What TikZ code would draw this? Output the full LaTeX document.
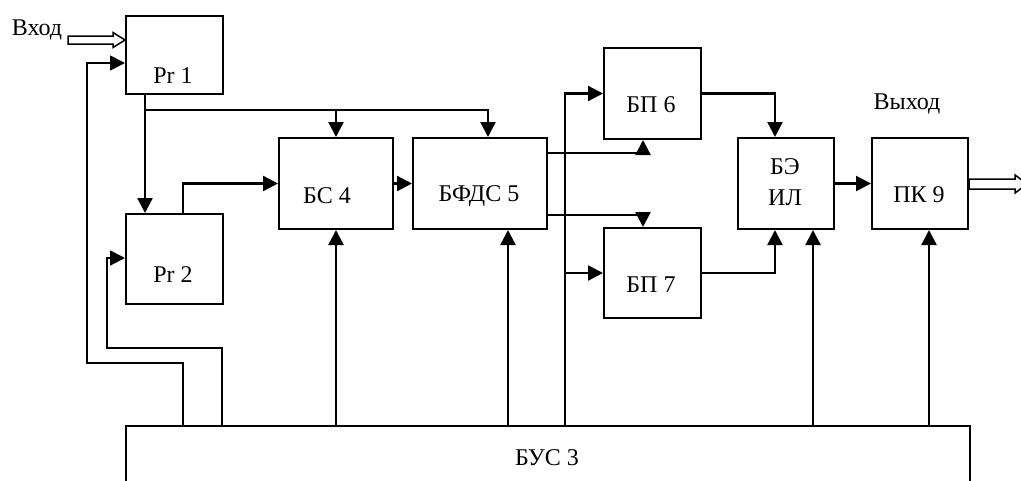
\documentclass[tikz,border=0pt]{standalone}
\usepackage{fontspec}
\setmainfont{Liberation Serif}
\usetikzlibrary{arrows.meta,calc}
\begin{document}
\begin{tikzpicture}[x=1pt,y=-1pt,
  every node/.style={font=\fontsize{24}{27}\selectfont},
  blk/.style={draw,line width=2pt,rectangle,inner sep=0pt,anchor=north west},
  lbl/.style={inner sep=0pt},
  arr/.style={line width=2.3pt,-{Triangle[length=15pt,width=15pt]}},
  fb/.style={line width=1.7pt,-{Triangle[length=15pt,width=15pt]}},
  hollow/.style={line width=1.5pt,fill=white,line join=miter}]
\useasboundingbox (0,0) rectangle (1021,480);
% blocks
\node[blk,minimum width=97pt,minimum height=78pt] (pr1) at (125,15) {};
\node[blk,minimum width=97pt,minimum height=90pt] (pr2) at (125,213) {};
\node[blk,minimum width=114pt,minimum height=91pt] (bs4) at (278,137) {};
\node[blk,minimum width=134pt,minimum height=91pt] (bfds5) at (412,137) {};
\node[blk,minimum width=97pt,minimum height=91pt] (bp6) at (603,47) {};
\node[blk,minimum width=97pt,minimum height=90pt] (bp7) at (603,227) {};
\node[blk,minimum width=96pt,minimum height=91pt] (bei) at (737,137) {};
\node[blk,minimum width=96pt,minimum height=91pt] (pk9) at (871,137) {};
\node[blk,line width=1.6pt,minimum width=844pt,minimum height=100pt] (bus) at (125,425) {};
% texts
\node[lbl] (tpr1) at (173,76) {Pr 1};
\node[lbl] (tpr2) at (173,275) {Pr 2};
\node[lbl] (tbs4) at (327,196) {БС 4};
\node[lbl] (tbfds5) at (479,196) {БФДС 5};
\node[lbl] (tbp6) at (651,105) {БП 6};
\node[lbl] (tbp7) at (651,285) {БП 7};
\node[lbl] (tbe) at (785,167) {БЭ};
\node[lbl] (til) at (785,198) {ИЛ};
\node[lbl] (tpk9) at (919,195) {ПК 9};
\node[lbl] (tbus) at (547,458) {БУС 3};
\node[lbl] (tin) at (37,30) {Вход};
\node[lbl] (tout) at (907,104) {Выход};
% connectors
\coordinate (j1) at ($(pr1.south west)+(20,15)$);
\draw[arr] ($(pr1.south west)+(20,0)$) -- ($(pr2.north west)+(20,0)$);
\draw[arr] (j1) -| ($(bs4.north west)+(58,0)$);
\draw[arr] (j1) -| ($(bfds5.north west)+(76,0)$);
\draw[arr] ($(pr2.north west)+(58,0)$) |- (bs4.west);
\draw[arr] (bs4.east) -- (bfds5.west);
\draw[arr] ($(bfds5.north east)+(0,16)$) -| ($(bp6.south west)+(40,0)$);
\draw[arr] ($(bfds5.south east)+(0,-15)$) -| ($(bp7.north west)+(40,0)$);
\draw[arr] ($(bus.north west)+(440,0)$) |- (bp6.west);
\draw[arr] ($(bus.north west)+(440,0)$) |- (bp7.west);
\draw[arr] (bp6.east) -| ($(bei.north west)+(38,0)$);
\draw[arr] (bp7.east) -| ($(bei.south west)+(38,0)$);
\draw[arr] ($(bus.north west)+(688,0)$) -- ($(bei.south west)+(76,0)$);
\draw[arr] (bei.east) -- (pk9.west);
\draw[arr] ($(bus.north west)+(804,0)$) -- ($(pk9.south west)+(58,0)$);
\draw[arr] ($(bus.north west)+(211,0)$) -- ($(bs4.south west)+(58,0)$);
\draw[arr] ($(bus.north west)+(383,0)$) -- ($(bfds5.south west)+(96,0)$);
\draw[fb] ($(bus.north west)+(58,0)$) -- ++(0,-62) -- ++(-96,0) |- ($(pr1.north west)+(0,48)$);
\draw[fb] ($(bus.north west)+(97,0)$) -- ++(0,-77) -- ++(-115,0) |- ($(pr2.north west)+(0,45)$);
% hollow input/output arrows
\coordinate (intip) at ($(pr1.north west)+(0,25)$);
\draw[hollow] (intip) -- ++(-12,-7.5) -- ++(0,3.5) -- ++(-45,0) -- ++(0,8) -- ++(45,0) -- ++(0,3.5) -- cycle;
\coordinate (outbase) at ($(pk9.north east)+(0,47)$);
\draw[hollow] ($(outbase)+(0,-5)$) -- ++(46,0) -- ++(0,-4) -- ++(12,9) -- ++(-12,9) -- ++(0,-4) -- ++(-46,0) -- cycle;
\end{tikzpicture}
\end{document}
